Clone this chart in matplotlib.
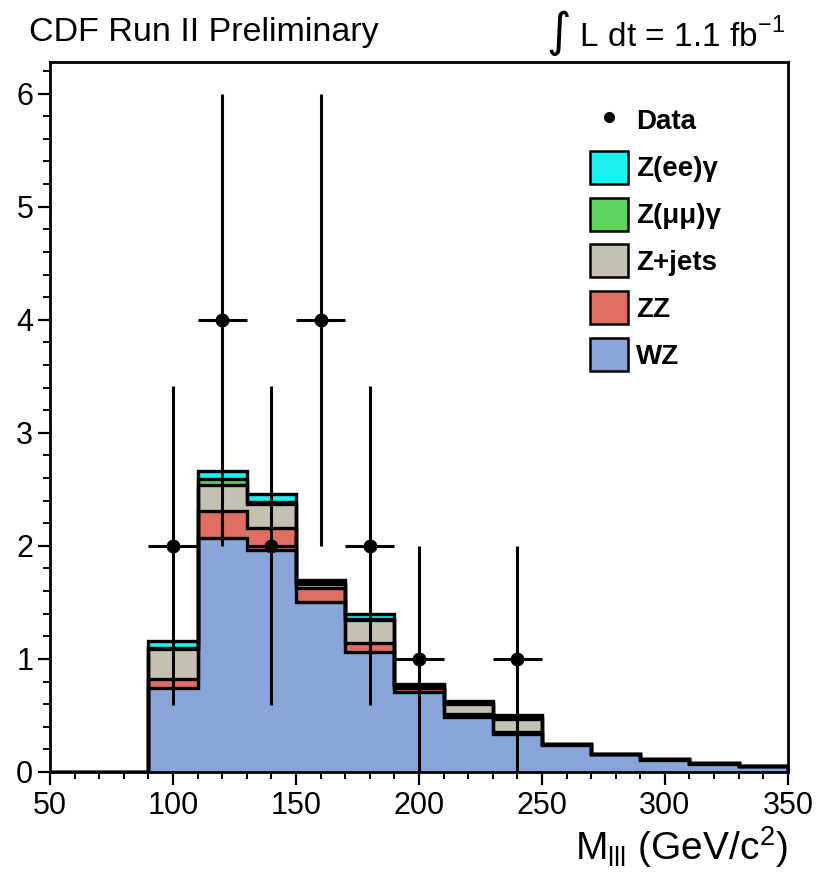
import matplotlib
matplotlib.use("Agg")
import matplotlib.pyplot as plt
from matplotlib.patches import Patch
from matplotlib.lines import Line2D
from matplotlib.ticker import MultipleLocator
import numpy as np

# bin edges in M_lll (GeV/c^2)
edges = [50, 70, 90, 110, 130, 150, 170, 190, 210, 230, 250, 270, 290, 310, 330, 350]

# expected events per bin
wz = [0, 0, 0.74, 2.07, 1.96, 1.50, 1.06, 0.71, 0.49, 0.34, 0.24, 0.155, 0.11, 0.075, 0.05]
zz = [0, 0, 0.08, 0.24, 0.20, 0.13, 0.08, 0.03, 0.02, 0.01, 0.004, 0.003, 0.002, 0.002, 0.002]
zjets = [0, 0, 0.27, 0.23, 0.21, 0.03, 0.20, 0.02, 0.09, 0.12, 0.004, 0.001, 0.001, 0.001, 0.001]
zmumu_g = [0, 0, 0.01, 0.05, 0.02, 0.01, 0.01, 0.01, 0.01, 0.01, 0.001, 0.001, 0.001, 0.001, 0.001]
zee_g = [0, 0, 0.06, 0.07, 0.07, 0.03, 0.05, 0.01, 0.02, 0.02, 0.001, 0.001, 0.001, 0.001, 0.001]

# observed data
data_x = [100, 120, 140, 160, 180, 200, 240]
data_y = [2, 4, 2, 4, 2, 1, 1]
data_err = [1.41, 2.0, 1.41, 2.0, 1.41, 1.0, 1.0]

names = ["WZ", "ZZ", "Z+jets", "Z(\u03bc\u03bc)\u03b3", "Z(ee)\u03b3"]
colors = ["#8aa6d8", "#e06e62", "#c5c1b2", "#5ed35e", "#1cf0f0"]

plt.rcParams["font.family"] = ["Liberation Sans", "DejaVu Sans"]

fig = plt.figure(figsize=(8.19, 8.85), dpi=100)
ax = fig.add_axes([0.061, 0.1277, 0.901, 0.8023])

comps = [wz, zz, zjets, zmumu_g, zee_g]
cum = np.cumsum(np.array(comps), axis=0)

# draw from the total down so each layer sits on top of the previous
for i in range(len(comps) - 1, -1, -1):
    ax.stairs(cum[i], edges, fill=True, facecolor=colors[i], edgecolor="none", zorder=2)
    ax.stairs(cum[i], edges, fill=False, color="black", lw=2.4, zorder=3)

ax.errorbar(data_x, data_y, xerr=10, yerr=data_err, fmt="o", color="black",
            ms=9, lw=2.2, capsize=0, zorder=5)

ax.set_xlim(50, 350)
ax.set_ylim(0, 6.28)
ax.xaxis.set_major_locator(MultipleLocator(50))
ax.xaxis.set_minor_locator(MultipleLocator(10))
ax.yaxis.set_major_locator(MultipleLocator(1))
ax.yaxis.set_minor_locator(MultipleLocator(0.2))
ax.tick_params(which="major", direction="out", length=9, width=1.6, labelsize=22, pad=3)
ax.tick_params(which="minor", direction="out", length=5, width=1.4)
ax.tick_params(axis="x", pad=5)
for s in ax.spines.values():
    s.set_linewidth(2)

fig.text(0.036, 0.963, "CDF Run II Preliminary", fontsize=24.5, va="center", ha="left")
fig.text(0.958, 0.963, r"$\int$ L dt = 1.1 fb$^{\mathregular{-1}}$", fontsize=24,
         va="center", ha="right")
fig.text(0.962, 0.043, r"M$_{\mathregular{lll}}$ (GeV/c$^{\mathregular{2}}$)",
         fontsize=28, ha="right", va="center")

handles = [Line2D([], [], marker="o", color="black", linestyle="none", ms=7)]
labels = ["Data"]
for i in range(len(comps) - 1, -1, -1):
    handles.append(Patch(facecolor=colors[i], edgecolor="black", lw=1.8))
    labels.append(names[i])
leg = fig.legend(handles, labels, loc="upper left", bbox_to_anchor=(0.69, 0.911),
                 frameon=False, handlelength=1.35, handleheight=1.45, handletextpad=0.3,
                 labelspacing=0.5, prop={"weight": "bold", "size": 20})

fig.savefig("out.png", dpi=100)
